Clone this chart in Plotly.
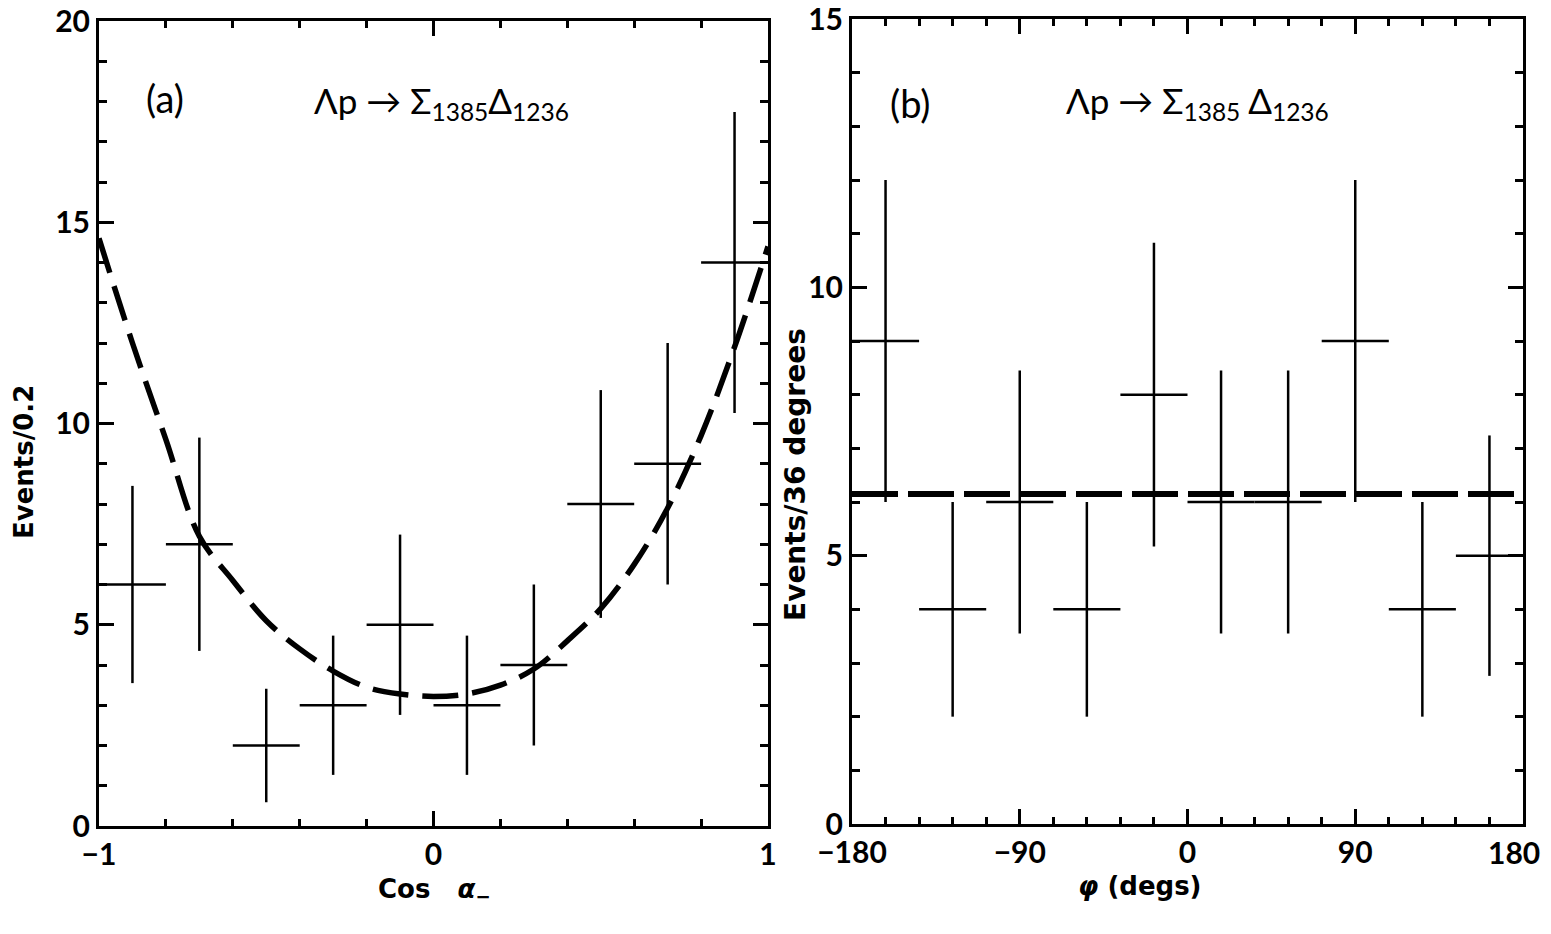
import plotly.graph_objects as go

# ---- Panel (a) data ----
cos_centers = [-0.9, -0.7, -0.5, -0.3, -0.1, 0.1, 0.3, 0.5, 0.7, 0.9]
cos_counts = [6, 7, 2, 3, 5, 3, 4, 8, 9, 14]
cos_err = [2.45, 2.65, 1.41, 1.73, 2.24, 1.73, 2.0, 2.83, 3.0, 3.74]
cos_halfbin = [0.1] * 10

fit_a_x = [-1, -0.9, -0.8, -0.7, -0.6, -0.5, -0.4, -0.3, -0.2, -0.1, 0,
           0.1, 0.2, 0.3, 0.4, 0.5, 0.6, 0.7, 0.8, 0.9, 1]
fit_a_y = [14.6, 12.0, 9.6, 7.2, 6.1, 5.1, 4.4, 3.85, 3.45, 3.28, 3.22,
           3.28, 3.5, 3.9, 4.6, 5.4, 6.5, 7.9, 9.7, 11.9, 14.4]

# ---- Panel (b) data ----
phi_centers = [-162, -126, -90, -54, -18, 18, 54, 90, 126, 162]
phi_counts = [9, 4, 6, 4, 8, 6, 6, 9, 4, 5]
phi_err = [3.0, 2.0, 2.45, 2.0, 2.83, 2.45, 2.45, 3.0, 2.0, 2.24]
phi_halfbin = [18] * 10

fit_b_x = [-180, 180]
fit_b_y = [6.15, 6.15]

phi_tickvals = [-180, -90, 0, 90, 180]
phi_ticktext = ["\u2212180", "\u221290", "0", "90", ""]   # last label drawn as an annotation
phi_last_label = "180"

FONT = "Lato"
TFONT = "DejaVu Sans"
BLACK = "black"

fig = go.Figure()

fig.add_trace(go.Scatter(
    x=cos_centers, y=cos_counts, mode="markers",
    marker=dict(size=1, color=BLACK),
    error_y=dict(type="data", array=cos_err, width=0, thickness=2.5, color=BLACK),
    error_x=dict(type="data", array=cos_halfbin, width=0, thickness=2.5, color=BLACK),
    xaxis="x", yaxis="y", showlegend=False, hoverinfo="skip"))
fig.add_trace(go.Scatter(
    x=fit_a_x, y=fit_a_y, mode="lines",
    line=dict(color=BLACK, width=5.5, dash="36px,14px", shape="spline", smoothing=1.0),
    xaxis="x", yaxis="y", showlegend=False, hoverinfo="skip"))

fig.add_trace(go.Scatter(
    x=phi_centers, y=phi_counts, mode="markers",
    marker=dict(size=1, color=BLACK),
    error_y=dict(type="data", array=phi_err, width=0, thickness=2.5, color=BLACK),
    error_x=dict(type="data", array=phi_halfbin, width=0, thickness=2.5, color=BLACK),
    xaxis="x2", yaxis="y2", showlegend=False, hoverinfo="skip"))
fig.add_trace(go.Scatter(
    x=fit_b_x, y=fit_b_y, mode="lines",
    line=dict(color=BLACK, width=6, dash="46px,10px"),
    xaxis="x2", yaxis="y2", showlegend=False, hoverinfo="skip"))

# page has an 8px body margin; the div is sized so the page needs no scrolling
OFF = 8
W, H = 1543, 918
def px_x(p):
    return (p - OFF) / W
def px_y(p):
    return 1 - (p - OFF) / H

tickfont = dict(family=FONT, size=30, color=BLACK, weight="bold")
common = dict(showline=True, linecolor=BLACK, linewidth=3, mirror="allticks",
              ticks="inside", tickcolor=BLACK, tickwidth=3, ticklen=15,
              showgrid=False, zeroline=False, tickfont=tickfont, automargin=False,
              ticklabeloverflow="allow")

fig.update_layout(
    width=W, height=H,
    margin=dict(l=0, r=0, t=0, b=0, autoexpand=False),
    paper_bgcolor="white", plot_bgcolor="white",
    xaxis=dict(domain=[px_x(99), px_x(768)], range=[-1, 1],
               tickvals=[-1, 0, 1], ticktext=["\u22121", "0", "1"],
               minor=dict(tickvals=[-0.8, -0.6, -0.4, -0.2, 0.2, 0.4, 0.6, 0.8],
                          ticks="inside", ticklen=7, tickwidth=3, tickcolor=BLACK),
               anchor="y", **common),
    yaxis=dict(domain=[px_y(826), px_y(21)], range=[0, 20],
               tickvals=[0, 5, 10, 15, 20],
               minor=dict(dtick=1, ticks="inside", ticklen=8, tickwidth=3, tickcolor=BLACK),
               anchor="x", **common),
    xaxis2=dict(domain=[px_x(852), px_x(1523)], range=[-180, 180],
                tickvals=phi_tickvals, ticktext=phi_ticktext,
                minor=dict(dtick=18, tick0=0, ticks="inside", ticklen=7, tickwidth=3, tickcolor=BLACK),
                anchor="y2", **common),
    yaxis2=dict(domain=[px_y(824), px_y(19)], range=[0, 15],
                tickvals=[0, 5, 10, 15],
                minor=dict(dtick=1, ticks="inside", ticklen=8, tickwidth=3, tickcolor=BLACK),
                anchor="x2", **common),
)

title_font = dict(family=TFONT, size=26, color=BLACK, weight="bold")
title_font_r = dict(family=TFONT, size=28, color=BLACK, weight="bold")
label_font = dict(family=FONT, size=38, color=BLACK)
react_font = dict(family=FONT, size=35, color=BLACK)

annotations = [
    dict(text="Events/0.2", x=px_x(24), y=px_y(462), textangle=-90, font=title_font),
    dict(text="Events/36 degrees", x=px_x(795), y=px_y(475), textangle=-90, font=title_font_r),
    dict(text="Cos   <i>\u03b1</i><sub>\u2212</sub>", x=px_x(434), y=px_y(890), font=title_font),
    dict(text="<i>\u03c6</i> (degs)", x=px_x(1140), y=px_y(886), font=title_font),
    dict(text="(a)", x=px_x(165), y=px_y(98), font=label_font),
    dict(text="(b)", x=px_x(910), y=px_y(103), font=label_font),
    dict(text="\u039bp \u2192 \u03a3<sub>1385</sub>\u0394<sub>1236</sub>",
         x=px_x(312), y=px_y(102), xanchor="left", font=react_font),
    dict(text="\u039bp \u2192 \u03a3<sub>1385</sub> \u0394<sub>1236</sub>",
         x=px_x(1064), y=px_y(102), xanchor="left", font=react_font),
    dict(text=phi_last_label, x=px_x(1514), y=px_y(852), font=tickfont),
]
for a in annotations:
    a.setdefault("xanchor", "center")
    a.update(xref="paper", yref="paper", showarrow=False, yanchor="middle")
fig.update_layout(annotations=annotations)

fig.write_html("out.html")
